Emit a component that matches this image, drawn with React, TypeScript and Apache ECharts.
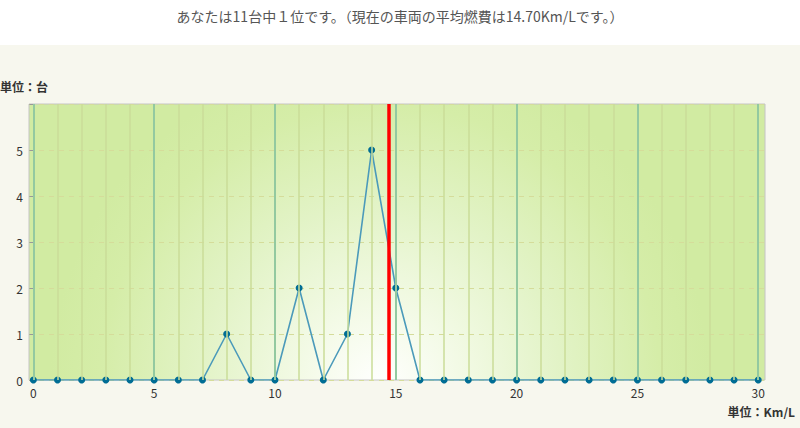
import React, { useEffect, useRef } from 'react'
import * as echarts from 'echarts'

// 燃費 (Km/L) ごとの台数
const fuelSteps = Array.from({ length: 31 }, (_, i) => i)
const carCounts = [0, 0, 0, 0, 0, 0, 0, 0, 1, 0, 0, 2, 0, 1, 5, 2, 0, 0, 0, 0, 0, 0, 0, 0, 0, 0, 0, 0, 0, 0, 0]
const majorSteps = [0, 5, 10, 15, 20, 25, 30]
const minorSteps = fuelSteps.filter(v => v % 5 !== 0)
const yTicks = [0, 1, 2, 3, 4, 5]
const myAverage = 14.7

const titleText = 'あなたは11台中１位です。（現在の車両の平均燃費は14.70Km/Lです。）'
const yUnit = '単位：台'
const xUnit = '単位：Km/L'

const font = '"Noto Sans CJK JP", "Noto Sans", sans-serif'

export default function App() {
  const chartRef = useRef<HTMLDivElement>(null)

  useEffect(() => {
    if (!chartRef.current) return
    const chart = echarts.init(chartRef.current, null, { renderer: 'svg' })

    const option = {
      animation: false,
      backgroundColor: '#ffffff',
      textStyle: { fontFamily: font },
      title: {
        text: titleText,
        left: 'center',
        top: 4,
        textStyle: { fontSize: 14, fontWeight: 'normal', color: '#555555', fontFamily: font }
      },
      graphic: [
        // 下側のベージュ背景
        {
          type: 'rect',
          z: -10,
          silent: true,
          shape: { x: 0, y: 45, width: 800, height: 383 },
          style: { fill: '#f7f7ee' }
        },
        {
          type: 'text',
          left: 0,
          top: 80,
          style: { text: yUnit, font: `bold 12px ${font}`, fill: '#333333' }
        },
        {
          type: 'text',
          right: 5,
          top: 405,
          style: { text: xUnit, font: `bold 12px ${font}`, fill: '#333333' }
        }
      ],
      grid: {
        left: 29,
        right: 35,
        top: 104,
        bottom: 48,
        show: true,
        borderColor: '#c4c4c4',
        borderWidth: 1,
        backgroundColor: new echarts.graphic.RadialGradient(380, 385, 330, [
          { offset: 0, color: '#ffffff' },
          { offset: 0.2, color: '#f5fbea' },
          { offset: 0.55, color: '#e2f3c6' },
          { offset: 0.85, color: '#d5eda8' },
          { offset: 1, color: '#d1eba2' }
        ], true)
      },
      xAxis: {
        type: 'value',
        min: -0.18,
        max: 30.28,
        axisLine: { show: false },
        axisTick: { show: false },
        splitLine: { show: false },
        axisLabel: {
          customValues: majorSteps,
          color: '#333333',
          fontSize: 12,
          margin: 6
        }
      },
      yAxis: {
        type: 'value',
        min: 0,
        max: 6,
        interval: 1,
        axisLine: { show: false },
        axisTick: { show: true, length: 4, lineStyle: { color: '#999999' } },
        axisLabel: {
          color: '#333333',
          fontSize: 12,
          margin: 6,
          formatter: (v: number) => (yTicks.includes(v) ? String(v) : '')
        },
        splitLine: {
          show: true,
          lineStyle: { color: '#d5dc9a', type: [5, 5], width: 1.2 }
        }
      },
      series: [
        {
          // 縦の目盛り線
          type: 'line',
          data: [],
          silent: true,
          z: 1,
          markLine: {
            silent: true,
            symbol: 'none',
            label: { show: false },
            data: [
              ...minorSteps.map(v => ({ xAxis: v, lineStyle: { color: '#cadd98', width: 1.5, type: 'solid' } })),
              ...majorSteps.map(v => ({ xAxis: v, lineStyle: { color: '#93c9a0', width: 2, type: 'solid' } }))
            ]
          }
        },
        {
          type: 'line',
          data: fuelSteps.map((x, i) => [x, carCounts[i]]),
          z: 3,
          symbol: 'circle',
          symbolSize: 7,
          lineStyle: { color: '#4b9aba', width: 1.6 },
          itemStyle: { color: '#006d94' }
        },
        {
          // 現在の車両の平均燃費
          type: 'line',
          data: [],
          z: 5,
          markLine: {
            silent: true,
            symbol: 'none',
            label: { show: false },
            data: [{ xAxis: myAverage, lineStyle: { color: '#ff0000', width: 3.5, type: 'solid' } }]
          }
        }
      ]
    }

    chart.setOption(option as any)
    return () => {
      chart.dispose()
    }
  }, [])

  return (
    <div style={{ position: 'fixed', left: 0, top: 0, width: 800, height: 428 }}>
      <div ref={chartRef} style={{ width: '100%', height: '100%' }} />
    </div>
  )
}
